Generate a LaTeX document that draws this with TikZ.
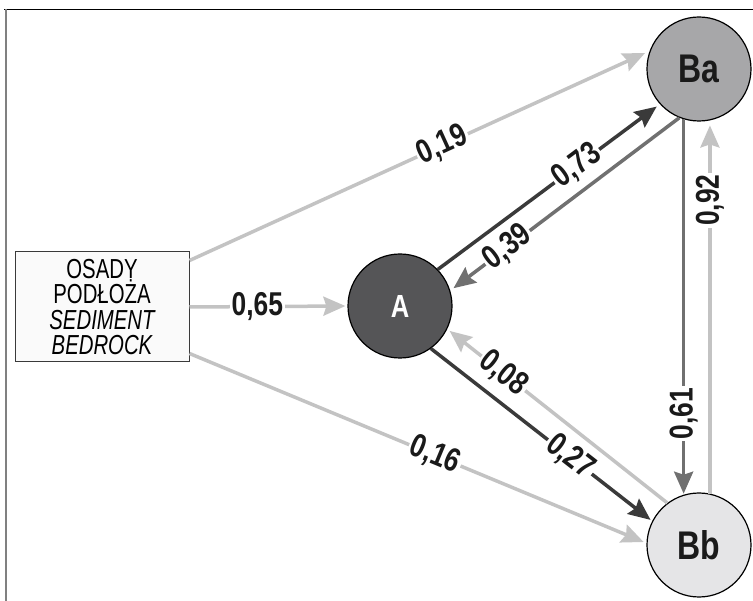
\documentclass[tikz,border=0pt]{standalone}
\usepackage{fontspec}
\setmainfont{Liberation Sans}
\newfontfamily\condfont{Liberation Sans}[FakeStretch=0.74]
\newfontfamily\condbold{Liberation Sans}[FakeStretch=0.8]
\usetikzlibrary{arrows.meta}

\definecolor{cLight}{HTML}{C3C3C3}
\definecolor{cMid}{HTML}{707070}
\definecolor{cDark}{HTML}{3A3A3A}
\definecolor{cText}{HTML}{1A1A1A}
\definecolor{fillA}{HTML}{555557}
\definecolor{fillBa}{HTML}{A7A7A9}
\definecolor{fillBb}{HTML}{E5E5E7}
\definecolor{boxFill}{HTML}{FAFAFA}

\begin{document}
\begin{tikzpicture}[x=1pt,y=-1pt,
  flow/.style={line width=3.5pt,
    -{Stealth[length=22pt,width=19pt,inset=3pt]}},
  light/.style={flow, draw=cLight},
  mid/.style={flow, draw=cMid},
  dark/.style={flow, draw=cDark},
  val/.style={fill=white, inner sep=2pt, text=cText,
    font=\condbold\bfseries\fontsize{33}{33}\selectfont},
  state/.style={circle, draw=black, line width=1.2pt,
    minimum size=104pt, inner sep=0pt},
  statelbl/.style={font=\condbold\bfseries\fontsize{40}{40}\selectfont}
]
\useasboundingbox (0,0) rectangle (753,601);

% partial frame
\draw[black, line width=1.2pt] (4,9.5) -- (753,9.5);
\draw[gray, line width=1.5pt] (6,9.5) -- (6,601);

% compartments
\node[draw=cDark, fill=boxFill, line width=1pt,
      minimum width=174pt, minimum height=110pt, inner sep=0pt,
      align=center, font=\condfont\fontsize{27.5}{25.5}\selectfont]
  (src) at (102,307) {OSADY\\PODŁOŻA\\{\itshape SEDIMENT}\\{\itshape BEDROCK}};

\node[state, fill=fillA, text=white,
      font=\condbold\bfseries\fontsize{32}{32}\selectfont] (A) at (400,306) {A};
\node[state, fill=fillBa, text=cText, statelbl] (Ba) at (699,69) {Ba};
\node[state, fill=fillBb, text=cText, statelbl] (Bb) at (699,545) {Bb};

% fluxes from the source box
\draw[light, shorten >=5pt] ([yshift=-9pt]src.north east) --
  node[val, sloped, pos=.55] {0,19} (Ba.160);
\draw[light, shorten >=2pt] (src.east) --
  node[val, pos=.43] {0,65} (A.west);
\draw[light, shorten >=3pt] ([yshift=9pt]src.south east) --
  node[val, sloped, pos=.537] {0,16} (Bb.178);

% A <-> Ba
\draw[dark, shorten >=4pt] (A.44) --
  node[val, sloped, pos=.626] {0,73} (Ba.222);
\draw[mid, shorten >=4pt] (Ba.248) --
  node[val, sloped, pos=.75] {0,39} (A.17);

% A <-> Bb
\draw[dark, shorten >=2pt] (A.-54) --
  node[val, sloped, pos=.628] {0,27} (Bb.153);
\draw[light, shorten >=3pt] (Bb.127) --
  node[val, sloped, pos=.745] {0,08} (A.-26);

% Ba <-> Bb
\draw[mid, shorten >=1pt] (Ba.-107) --
  node[val, rotate=90, pos=.784] {0,61} (Bb.107);
\draw[light, shorten >=5pt] (Bb.78) --
  node[val, rotate=90, pos=.786] {0,92} (Ba.-78);
\end{tikzpicture}
\end{document}
